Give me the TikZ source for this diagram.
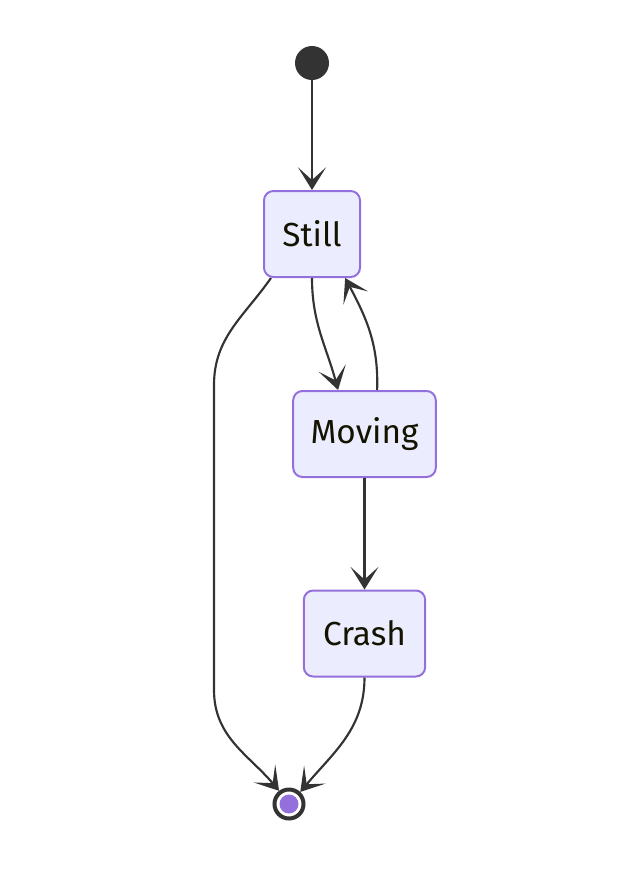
\documentclass[tikz,border=0pt]{standalone}
\usepackage{fontspec}
\setmainfont{Fira Sans}
\usetikzlibrary{arrows.meta,calc}
\definecolor{ink}{HTML}{333333}
\definecolor{boxfill}{HTML}{ECECFF}
\definecolor{boxline}{HTML}{9370DB}
\definecolor{word}{HTML}{131300}

\begin{document}
\begin{tikzpicture}[x=0.75pt,y=0.75pt,>={Stealth[length=17pt,width=21pt,inset=9.5pt]},
  state/.style={draw=boxline,fill=boxfill,line width=1.5pt,rounded corners=7pt,minimum height=64.5pt,inner sep=0pt,text=word,font=\fontsize{25}{30}\selectfont},
  edge/.style={->,draw=ink,line width=1.6pt}]
\useasboundingbox (0,0) rectangle (634,-876);
\node[circle,fill=ink,minimum size=25.5pt,inner sep=0pt] (start) at (312,-63) {};
\node[state,minimum width=72pt] (still) at (312,-234) {Still};
\node[state,minimum width=107pt] (moving) at (364.5,-434) {Moving};
\node[state,minimum width=91pt] (crash) at (364.5,-633.5) {Crash};
\node[circle,draw=ink,line width=3pt,fill=white,minimum size=21.75pt,inner sep=0pt] (stop) at (289,-804) {};
\fill[boxline] (stop.center) circle (7.1pt);
\coordinate (leftupper) at (214,-385);
\coordinate (leftlower) at (214,-690);
\draw[edge] (start) -- (still);
\draw[edge] (still.south) to[out=-90,in=105] (moving.121);
\draw[edge] (moving.74) to[out=88,in=-62] (still.-53);
\draw[edge] (moving) -- (crash);
\draw[edge] (still.-133) to[out=-125,in=90] (leftupper) -- (leftlower) to[out=-90,in=130] (stop.127);
\draw[edge] (crash.south) to[out=-90,in=50] (stop.47);
\end{tikzpicture}
\end{document}
